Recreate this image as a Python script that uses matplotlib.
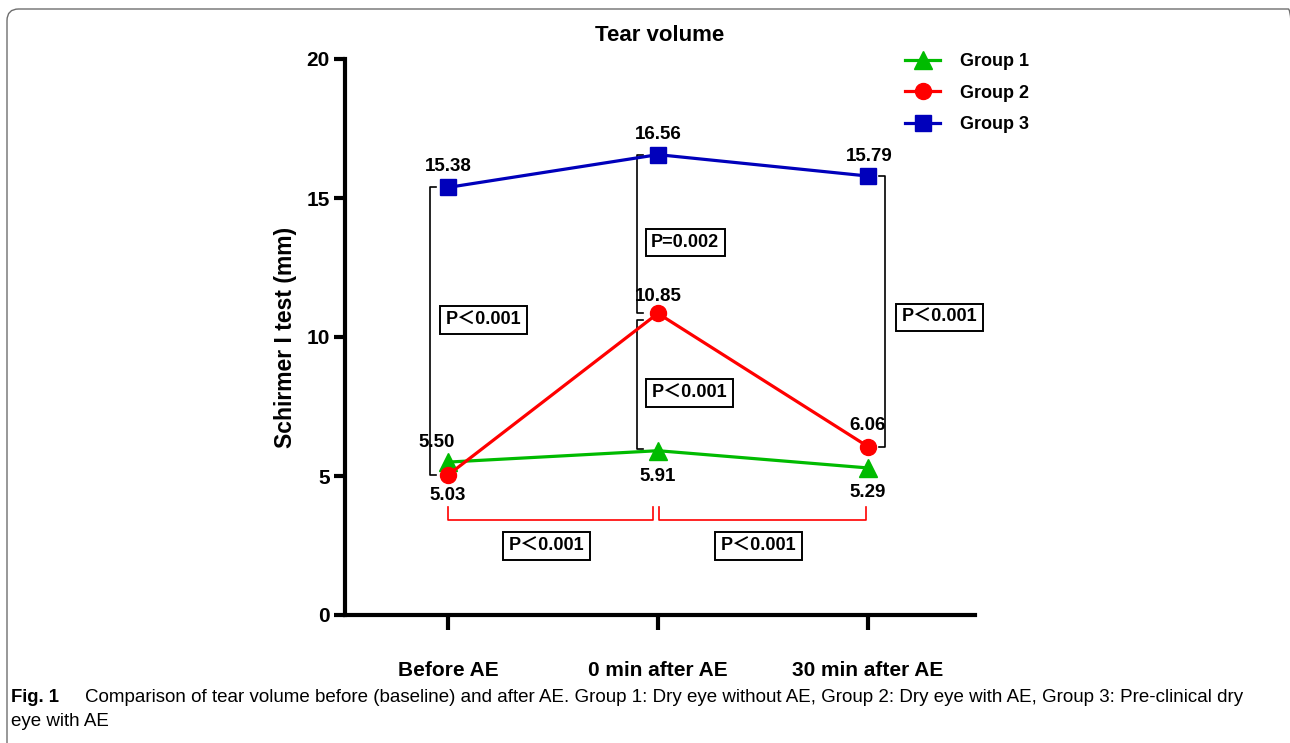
import matplotlib
matplotlib.use("Agg")
import matplotlib.pyplot as plt
from matplotlib.patches import FancyBboxPatch

categories = ["Before AE", "0 min after AE", "30 min after AE"]
group1 = [5.50, 5.91, 5.29]
group2 = [5.03, 10.85, 6.06]
group3 = [15.38, 16.56, 15.79]
series_names = ["Group 1", "Group 2", "Group 3"]
y_ticks = [0, 5, 10, 15, 20]
p_texts = ["P\uff1c0.001", "P=0.002", "P\uff1c0.001", "P\uff1c0.001", "P\uff1c0.001", "P\uff1c0.001"]
title = "Tear volume"
ylabel = "Schirmer I test (mm)"
caption_bold = "Fig. 1"
caption_line1 = ("Comparison of tear volume before (baseline) and after AE. Group 1: Dry eye without AE, "
                 "Group 2: Dry eye with AE, Group 3: Pre-clinical dry")
caption_line2 = "eye with AE"

FONT = ["Liberation Sans", "Noto Sans CJK SC", "DejaVu Sans"]
plt.rcParams["font.family"] = FONT

W, H = 1290, 743
fig = plt.figure(figsize=(W / 100, H / 100), dpi=100)
ax = fig.add_axes([345 / W, 1 - 615 / H, (975 - 345) / W, (615 - 59) / H])

x = list(range(len(categories)))
green, red, blue = "#00BB00", "#FF0000", "#0000BB"
ax.plot(x, group1, color=green, lw=2.3, marker="^", ms=13, label=series_names[0], zorder=3)
ax.plot(x, group2, color=red, lw=2.3, marker="o", ms=11.5, label=series_names[1], zorder=4)
ax.plot(x, group3, color=blue, lw=2.3, marker="s", ms=11.5, label=series_names[2], zorder=3)

ax.set_xlim(-0.49, 2.51)
ax.set_ylim(0, 20)
ax.set_yticks(y_ticks)
ax.set_xticks(x)
ax.set_xticklabels(categories, fontsize=15, fontweight="bold")
ax.set_yticklabels([str(v) for v in y_ticks], fontsize=15, fontweight="bold")
ax.tick_params(axis="x", length=11, width=3, pad=22, direction="out")
ax.tick_params(axis="y", length=8, width=3, pad=3, direction="out")
for s in ["top", "right"]:
    ax.spines[s].set_visible(False)
for s in ["left", "bottom"]:
    ax.spines[s].set_linewidth(3)
ax.set_ylabel(ylabel, fontsize=16.5, fontweight="bold", labelpad=7)
ax.set_title(title, fontsize=16, fontweight="bold", pad=13)

# value labels
def vlabel(xi, yi, dx, dy):
    ax.annotate(f"{yi:.2f}", (xi, yi), xytext=(dx, dy), textcoords="offset points",
                ha="center", va="center", fontsize=13.5, fontweight="bold")

vlabel(0, group3[0], 0, 15)
vlabel(1, group3[1], 0, 14.5)
vlabel(2, group3[2], 1, 14)
vlabel(1, group2[1], 0, 12)
vlabel(2, group2[2], 0, 15)
vlabel(0, group2[0], 0, -15)
vlabel(0, group1[0], -8, 14)
vlabel(1, group1[1], 0, -18.5)
vlabel(2, group1[2], 0, -17.5)

# black brackets
def vbracket(xb, y0, y1, tick):
    ax.plot([xb + tick, xb, xb, xb + tick], [y0, y0, y1, y1], color="black", lw=1.2, zorder=2)

vbracket(-0.085, group3[0], group2[0], 0.028)
vbracket(0.9, group3[1], group2[1], 0.028)
vbracket(0.9, group2[1] - 0.25, group1[1] + 0.05, 0.028)
vbracket(2.08, group3[2], group2[2], -0.028)

# red brackets
def hbracket(x0, x1, yh, ytop):
    ax.plot([x0, x0, x1, x1], [ytop, yh, yh, ytop], color=red, lw=1.2, zorder=2)

hbracket(0, 0.975, 3.42, 3.88)
hbracket(1.005, 1.99, 3.42, 3.88)

box = dict(boxstyle="square,pad=0.3", fc="white", ec="black", lw=1.4)
p_pos = [(0.17, 10.6), (1.13, 13.4), (1.15, 7.98), (2.34, 10.7), (0.47, 2.48), (1.48, 2.48)]
for (px, py), t in zip(p_pos, p_texts):
    ax.text(px, py, t, ha="center", va="center", fontsize=13, fontweight="bold", bbox=box, zorder=5)

leg = ax.legend(loc="upper left", bbox_to_anchor=(898 / W, 1 - 46 / H), bbox_transform=fig.transFigure,
                frameon=False, prop=dict(weight="bold", size=13), handlelength=1.95,
                labelspacing=0.8, handletextpad=1.1, borderaxespad=0)

# figure frame
frame = FancyBboxPatch((7 / W, -0.1), (1300 - 7) / W, 1 - 9 / H + 0.1,
                       boxstyle="round,pad=0,rounding_size=0.009", transform=fig.transFigure,
                       fc="none", ec="#6e6e6e", lw=1.0, mutation_aspect=W / H)
fig.patches.append(frame)

# caption
cap_font = ["Liberation Sans"]
fig.text(11 / W, 1 - 697 / H, caption_bold, fontsize=13.3, fontweight="bold", va="center", family=cap_font)
fig.text(85 / W, 1 - 697 / H, caption_line1, fontsize=13.5, va="center", family=cap_font)
fig.text(11 / W, 1 - 722 / H, caption_line2, fontsize=13.5, va="center", family=cap_font)

fig.savefig("out.png", dpi=100)
